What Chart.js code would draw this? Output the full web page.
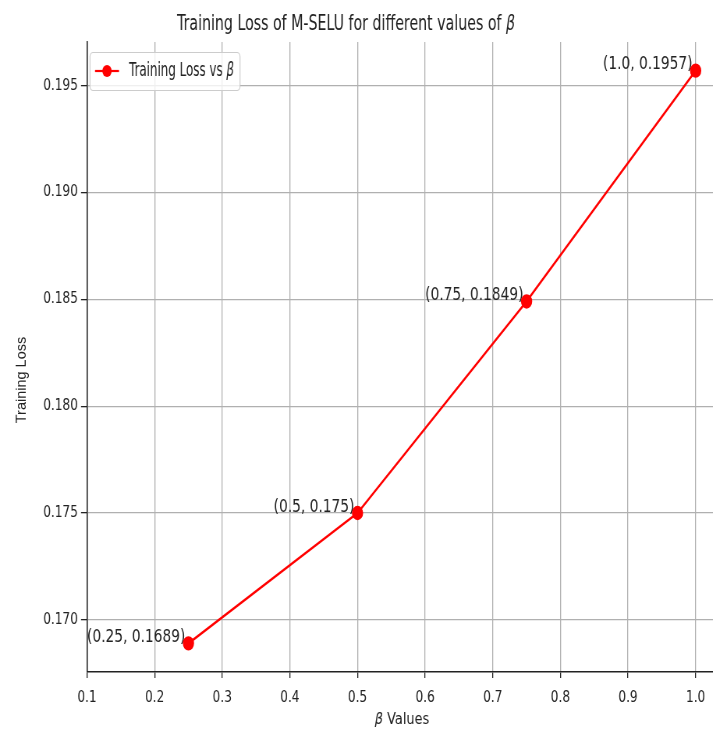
<!DOCTYPE html>
<html>
<head>
<meta charset="utf-8">
<script src="https://cdn.jsdelivr.net/npm/chart.js@4"></script>
<style>
  body { margin: 0; background: #fff; }
  .wrap { width: 713px; height: 736px; overflow: hidden; }
  /* la figura original esta comprimida en horizontal */
  .squash { width: 949px; height: 736px; transform: scaleX(0.78); transform-origin: 0 0; }
</style>
</head>
<body>
<div class="wrap"><div class="squash"><canvas id="grafico" width="949" height="736"></canvas></div></div>
<script>
// datos
const betaValues = [0.25, 0.5, 0.75, 1.0]
const trainingLoss = [0.1689, 0.175, 0.1849, 0.1957]
const pointLabels = ['(0.25, 0.1689)', '(0.5, 0.175)', '(0.75, 0.1849)', '(1.0, 0.1957)']
const xTicks = [0.1, 0.2, 0.3, 0.4, 0.5, 0.6, 0.7, 0.8, 0.9, 1.0]
const yTicks = [0.170, 0.175, 0.180, 0.185, 0.190, 0.195]

const FONT = '"DejaVu Sans", sans-serif'
const S = 0.78 // factor de compresion horizontal
const cx = v => v / S // px de pantalla -> px del canvas

// texto con partes en cursiva y compresion extra en x
const drawText = (ctx, parts, x, y, size, k, align, baseline) => {
  ctx.save()
  ctx.translate(x, y)
  ctx.scale(k, 1)
  ctx.textAlign = 'left'
  ctx.textBaseline = baseline
  let w = 0
  parts.forEach(p => {
    ctx.font = (p.it ? 'italic ' : '') + size + 'px ' + FONT
    p.w = ctx.measureText(p.t).width
    w += p.w
  })
  let pos = align === 'center' ? -w / 2 : align === 'right' ? -w : 0
  parts.forEach(p => {
    ctx.font = (p.it ? 'italic ' : '') + size + 'px ' + FONT
    ctx.fillText(p.t, pos, 0)
    pos += p.w
  })
  ctx.restore()
}

// titulo, leyenda y etiquetas de los puntos
const extras = {
  id: 'extras',
  beforeDatasetsDraw(chart) {
    const ctx = chart.ctx
    const x = chart.scales.x, y = chart.scales.y
    ctx.save()
    ctx.fillStyle = '#222'
    betaValues.forEach((b, i) => {
      drawText(ctx, [{ t: pointLabels[i] }], x.getPixelForValue(b) - 4, y.getPixelForValue(trainingLoss[i]) + 3,
        18, 0.98, 'right', 'bottom')
    })
    ctx.restore()
  },
  afterDraw(chart) {
    const ctx = chart.ctx
    ctx.save()
    ctx.fillStyle = '#222'
    // titulo
    drawText(ctx, [{ t: 'Training Loss of M-SELU for different values of ' }, { t: 'β', it: true }],
      cx(346), 30, 21.5, 0.845, 'center', 'alphabetic')
    // titulo eje x
    drawText(ctx, [{ t: 'β ', it: true }, { t: 'Values' }], cx(402), 724, 16.5, 1, 'center', 'alphabetic')
    // titulo eje y (sin comprimir)
    ctx.translate(cx(22), 380)
    ctx.scale(1 / S, 1)
    ctx.rotate(-Math.PI / 2)
    ctx.font = '14.5px "Liberation Sans", Arial, sans-serif'
    ctx.textAlign = 'center'
    ctx.textBaseline = 'middle'
    ctx.fillText('Training Loss', 0, 0)
    ctx.restore()

    // leyenda
    ctx.save()
    ctx.beginPath()
    ctx.roundRect(cx(90), 52.5, cx(150), 38, 4)
    ctx.fillStyle = 'rgba(255,255,255,0.8)'
    ctx.fill()
    ctx.strokeStyle = '#cccccc'
    ctx.lineWidth = 1.2
    ctx.stroke()
    ctx.strokeStyle = '#ff0000'
    ctx.lineWidth = 2.2
    ctx.beginPath()
    ctx.moveTo(cx(95), 71)
    ctx.lineTo(cx(119), 71)
    ctx.stroke()
    ctx.fillStyle = '#ff0000'
    ctx.beginPath()
    ctx.arc(cx(107), 71, 6, 0, Math.PI * 2)
    ctx.fill()
    ctx.fillStyle = '#222'
    drawText(ctx, [{ t: 'Training Loss vs ' }, { t: 'β', it: true }], cx(129), 71, 19.5, 0.78, 'left', 'middle')
    ctx.restore()
  }
}

const ctx = document.getElementById('grafico').getContext('2d')
new Chart(ctx, {
  type: 'line',
  data: {
    datasets: [{
      label: 'Training Loss vs β',
      data: betaValues.map((b, i) => ({ x: b, y: trainingLoss[i] })),
      borderColor: '#ff0000',
      backgroundColor: '#ff0000',
      borderWidth: 2.4,
      pointRadius: 6,
      pointHoverRadius: 6,
      tension: 0
    }]
  },
  options: {
    responsive: false,
    animation: false,
    layout: { padding: { top: 42, right: 949 - cx(721), left: 0, bottom: 0 } },
    plugins: { legend: { display: false }, title: { display: false }, tooltip: { enabled: false } },
    scales: {
      x: {
        type: 'linear',
        min: 0.1,
        max: 1.0375,
        afterBuildTicks: s => { s.ticks = xTicks.map(v => ({ value: v })) },
        afterFit: s => { s.height = 64 },
        grid: { color: '#b0b0b0', lineWidth: 1.3, tickLength: 6, tickColor: '#222' },
        border: { color: '#222', width: 1.5 },
        ticks: { color: '#222', font: { family: FONT, size: 15.5 }, padding: 11, maxRotation: 0,
          callback: v => v.toFixed(1) }
      },
      y: {
        min: 0.16756,
        max: 0.19704,
        afterBuildTicks: s => { s.ticks = yTicks.map(v => ({ value: v })) },
        afterFit: s => { s.width = cx(87) },
        grid: { color: '#b0b0b0', lineWidth: 1.3, tickLength: cx(6), tickColor: '#222' },
        border: { color: '#222', width: 1.5 },
        ticks: { color: '#222', font: { family: FONT, size: 15.5 }, padding: 4,
          callback: v => v.toFixed(3) }
      }
    }
  },
  plugins: [extras]
})
</script>
</body>
</html>
